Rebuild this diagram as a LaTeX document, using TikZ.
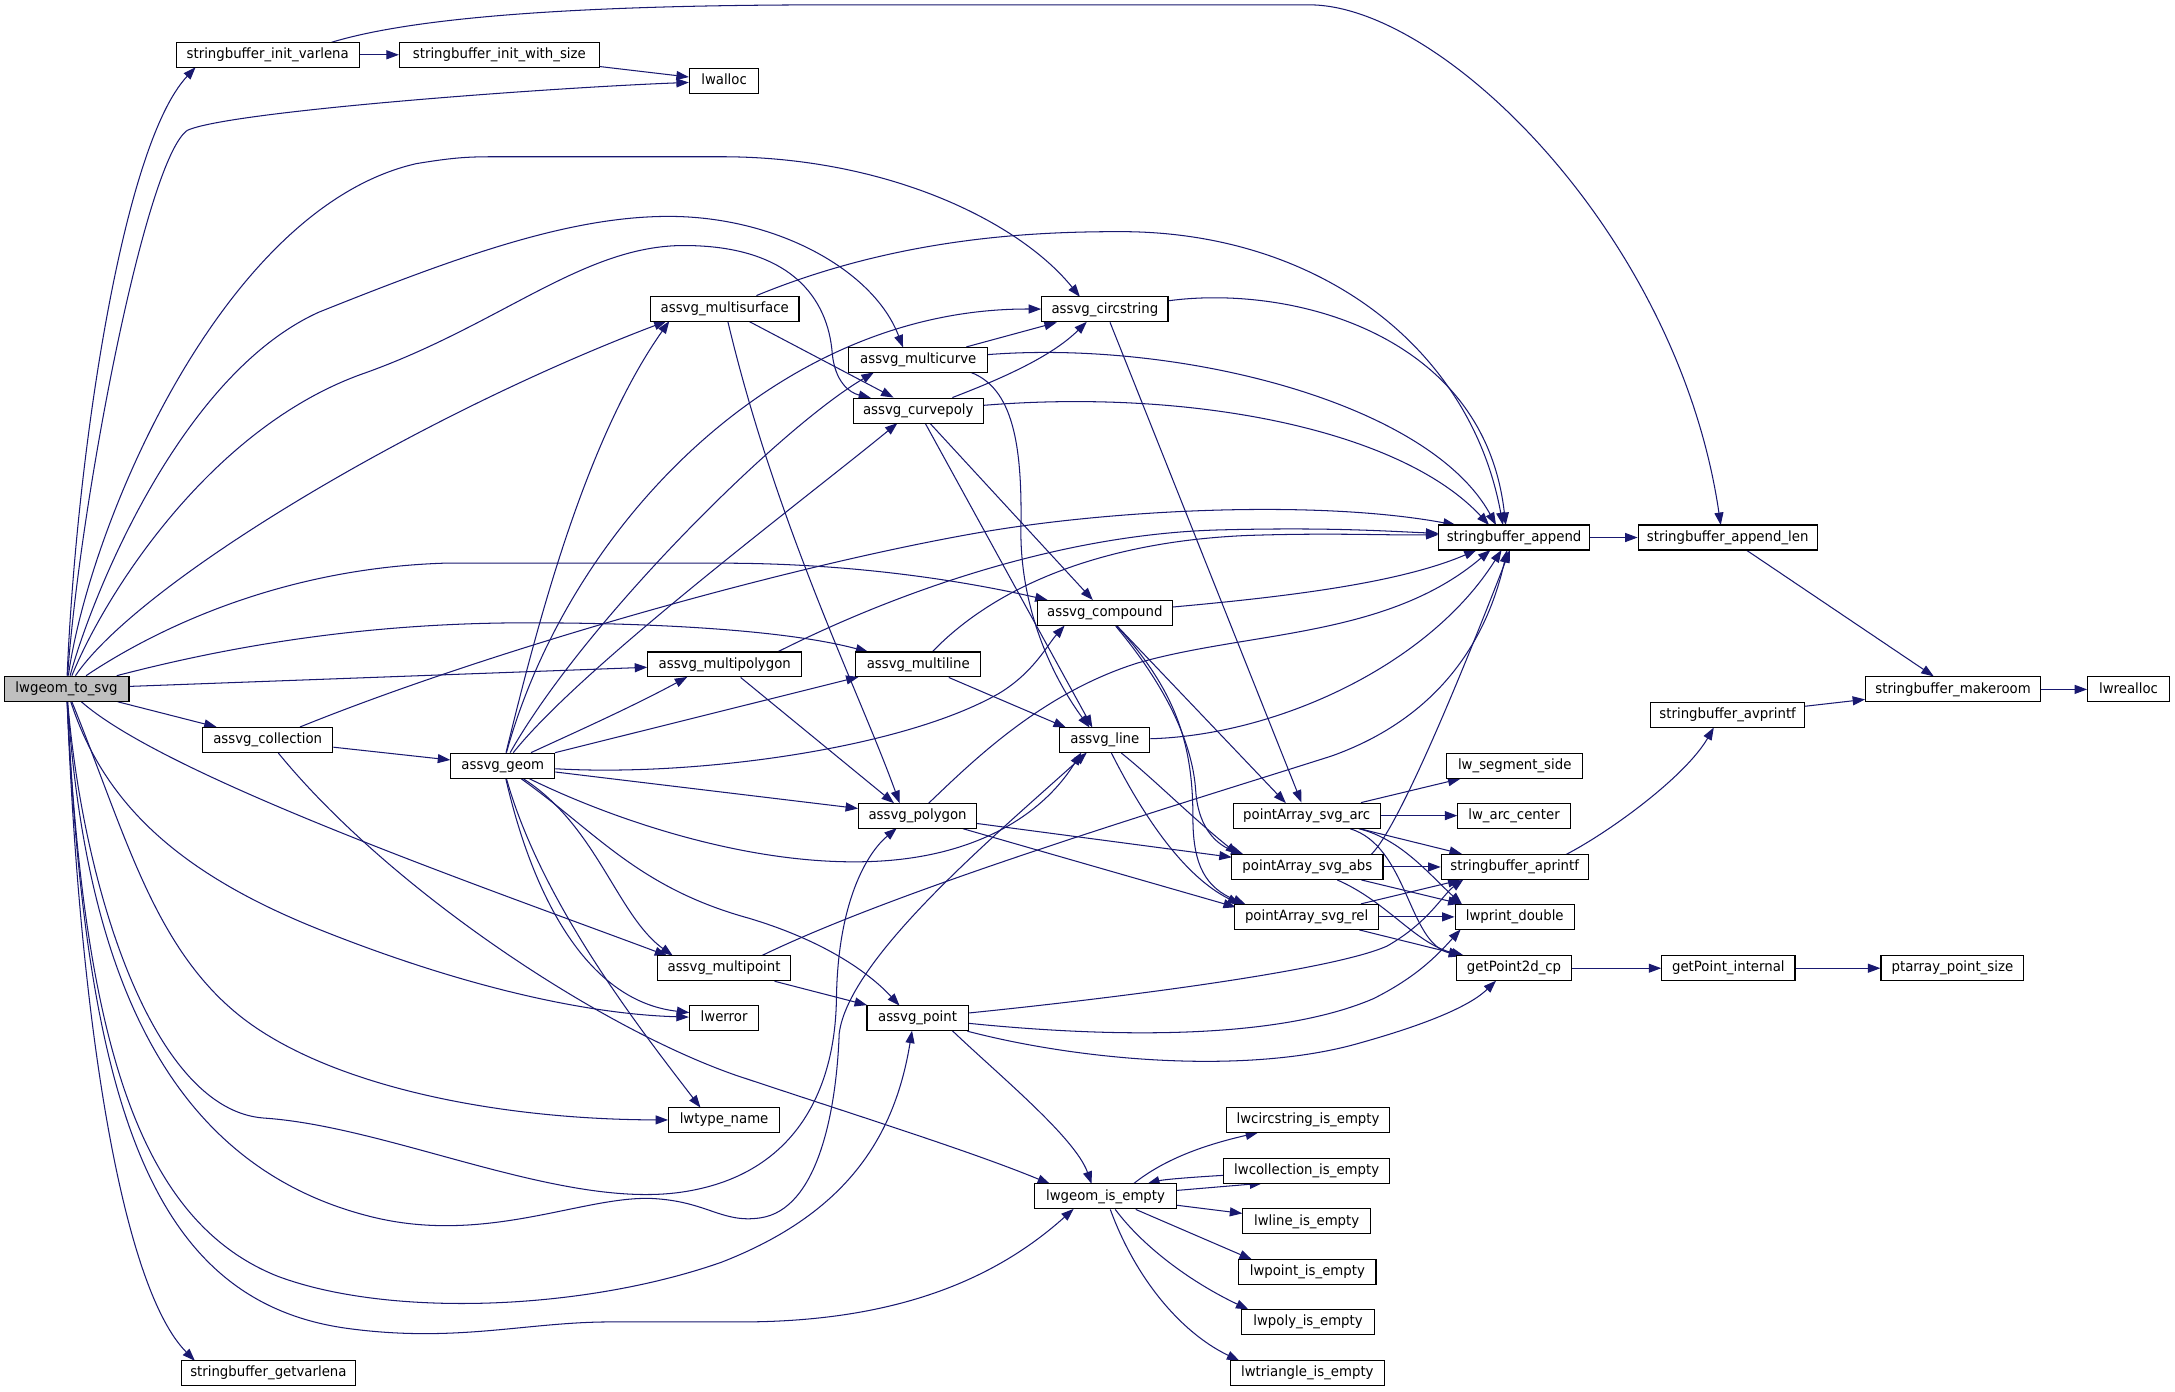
\documentclass[tikz,border=0pt]{standalone}
\usepackage{fontspec}
\setmainfont{DejaVu Sans}[FakeStretch=0.94]
\usetikzlibrary{arrows.meta,calc}
\definecolor{edgeblue}{HTML}{191970}
\definecolor{rootgray}{HTML}{BFBFBF}
\pgfdeclarelayer{bg}
\pgfsetlayers{bg,main}
\begin{document}
\begin{tikzpicture}[x=1pt,y=-1pt,
  fn/.style={draw=black, fill=white, line width=0.8pt, minimum height=18pt, inner sep=0pt,
    font=\fontsize{10.2pt}{12pt}\selectfont, text height=7.6pt, text depth=2.3pt},
  e/.style={draw=edgeblue, line width=0.75pt, -{Triangle[length=9pt,width=6.5pt]}}]
\useasboundingbox (0,0) rectangle (1568,1003.5);
% nodes
\node[fn, fill=rootgray, minimum width=90pt] (L) at (48,496.5) {lwgeom\_to\_svg};
\node[fn, minimum width=132pt] (siv) at (193,39.5) {stringbuffer\_init\_varlena};
\node[fn, minimum width=144pt] (siws) at (360,39.5) {stringbuffer\_init\_with\_size};
\node[fn, minimum width=50pt] (alloc) at (522,58.5) {lwalloc};
\node[fn, minimum width=107pt] (MS) at (522.5,222.5) {assvg\_multisurface};
\node[fn, minimum width=91pt] (CS) at (796.5,223) {assvg\_circstring};
\node[fn, minimum width=100pt] (MC) at (662,259.5) {assvg\_multicurve};
\node[fn, minimum width=94pt] (CP) at (662,296) {assvg\_curvepoly};
\node[fn, minimum width=109pt] (SA) at (1091.5,387.5) {stringbuffer\_append};
\node[fn, minimum width=129pt] (SAL) at (1245.5,387.5) {stringbuffer\_append\_len};
\node[fn, minimum width=97pt] (CO) at (796.5,442) {assvg\_compound};
\node[fn, minimum width=111pt] (MPG) at (522.5,479) {assvg\_multipolygon};
\node[fn, minimum width=90pt] (ML) at (662,479) {assvg\_multiline};
\node[fn, minimum width=94pt] (COL) at (193,533.5) {assvg\_collection};
\node[fn, minimum width=75pt] (G) at (362.5,552) {assvg\_geom};
\node[fn, minimum width=65pt] (LN) at (796.5,533.5) {assvg\_line};
\node[fn, minimum width=85pt] (PG) at (661.5,588) {assvg\_polygon};
\node[fn, minimum width=106pt] (ARC) at (942,588) {pointArray\_svg\_arc};
\node[fn, minimum width=109pt] (ABS) at (942.5,625) {pointArray\_svg\_abs};
\node[fn, minimum width=104pt] (REL) at (942,661) {pointArray\_svg\_rel};
\node[fn, minimum width=98pt] (SEG) at (1092,552) {lw\_segment\_side};
\node[fn, minimum width=81pt] (CEN) at (1091.5,588) {lw\_arc\_center};
\node[fn, minimum width=106pt] (APR) at (1092,625) {stringbuffer\_aprintf};
\node[fn, minimum width=86pt] (PD) at (1092,661) {lwprint\_double};
\node[fn, minimum width=83pt] (GP2) at (1091.5,698) {getPoint2d\_cp};
\node[fn, minimum width=96pt] (GPI) at (1246,698) {getPoint\_internal};
\node[fn, minimum width=103pt] (PPS) at (1407.5,698) {ptarray\_point\_size};
\node[fn, minimum width=111pt] (AVP) at (1245.5,515.5) {stringbuffer\_avprintf};
\node[fn, minimum width=126pt] (MKR) at (1408,497) {stringbuffer\_makeroom};
\node[fn, minimum width=59pt] (RA) at (1534.5,497) {lwrealloc};
\node[fn, minimum width=96pt] (MP) at (522,698) {assvg\_multipoint};
\node[fn, minimum width=50pt] (ERR) at (522,734) {lwerror};
\node[fn, minimum width=73pt] (PT) at (661.5,734) {assvg\_point};
\node[fn, minimum width=80pt] (TN) at (522,807.5) {lwtype\_name};
\node[fn, minimum width=102pt] (IE) at (797,862.5) {lwgeom\_is\_empty};
\node[fn, minimum width=118pt] (CSE) at (943,807.5) {lwcircstring\_is\_empty};
\node[fn, minimum width=120pt] (COE) at (942,844) {lwcollection\_is\_empty};
\node[fn, minimum width=92pt] (LE) at (942,880.5) {lwline\_is\_empty};
\node[fn, minimum width=99pt] (PE) at (942.5,917) {lwpoint\_is\_empty};
\node[fn, minimum width=96pt] (POE) at (943,953) {lwpoly\_is\_empty};
\node[fn, minimum width=111pt] (TE) at (942.5,990) {lwtriangle\_is\_empty};
\node[fn, minimum width=125pt] (GV) at (193.5,990) {stringbuffer\_getvarlena};
\begin{pgfonlayer}{bg}
\fill[white] (0,0) rectangle (1568,1003.5);
% from lwgeom_to_svg
\draw[e] (L) .. controls (55,330) and (88,105) .. ($(siv)+(-52,9)$);
\draw[e] (L) .. controls (58,360) and (105,115) .. (135,94) .. controls (165,80) and (400,63) .. (alloc);
\draw[e] (L) .. controls (64,380) and (160,150) .. (300,118) .. controls (330,113) and (340,113) .. (360,113) -- (520,113) .. controls (640,113) and (735,160) .. ($(CS)+(-18,-9)$);
\draw[e] (L) .. controls (66,430) and (130,270) .. (230,225) .. controls (330,185) and (410,156) .. (482,156) .. controls (560,156) and (630,195) .. ($(MC)+(-11,-9)$);
\draw[e] (L) .. controls (75,430) and (150,310) .. (260,270) .. controls (360,235) and (420,177) .. (493,177) .. controls (570,177) and (597,215) .. (600,255) .. controls (602,275) and (612,283) .. ($(CP)+(-34,-9)$);
\draw[e] (L) .. controls (100,420) and (300,300) .. ($(MS)+(-42,9)$);
\draw[e] (L) .. controls (110,455) and (200,410) .. (320,406) -- (520,406) .. controls (620,406) and (700,420) .. (CO);
\draw[e] (L) .. controls (150,470) and (250,449) .. (380,449) .. controls (480,449) and (570,455) .. ($(ML)+(-36,-9)$);
\draw[e] (L) -- (MPG);
\draw[e] (L) -- (COL);
\draw[e] (L) .. controls (120,560) and (350,640) .. ($(MP)+(-41,-9)$);
\draw[e] (L) .. controls (75,580) and (130,630) .. (230,670) .. controls (330,710) and (420,731) .. (ERR);
\draw[e] (L) .. controls (90,600) and (110,680) .. (170,730) .. controls (230,780) and (350,807) .. (TN);
\draw[e] (L) .. controls (60,640) and (110,800) .. (190,806) .. controls (280,812) and (400,870) .. (487,860) .. controls (570,850) and (602,790) .. (603,720) .. controls (604,650) and (625,615) .. ($(PG)+(-15,9)$);
\draw[e] (L) .. controls (62,700) and (120,840) .. (267,877) .. controls (350,898) and (420,862) .. (470,864) .. controls (510,866) and (520,882) .. (548,878) .. controls (590,872) and (603,800) .. (605,745) .. controls (612,690) and (720,600) .. ($(LN)+(-13,9)$);
\draw[e] (L) .. controls (60,750) and (100,880) .. (200,920) .. controls (280,950) and (420,945) .. (520,910) .. controls (610,875) and (645,820) .. ($(PT)+(-4,9)$);
\draw[e] (L) .. controls (62,800) and (110,940) .. (253,958) .. controls (330,968) and (380,953) .. (440,953) -- (534,953) .. controls (650,953) and (720,920) .. ($(IE)+(-23,9)$);
\draw[e] (L) .. controls (58,750) and (90,930) .. ($(GV)+(-53,-9)$);
% stringbuffer init
\draw[e] (siv) -- (siws);
\draw[e] (siws) -- (alloc);
\draw[e] ($(siv)+(46,-9)$) .. controls (300,12) and (420,3.5) .. (600,3.5) -- (944,3.5) .. controls (1040,3.5) and (1210,170) .. ($(SAL)+(-5,-9)$);
% collection
\draw[e] (COL) -- (G);
\draw[e] (COL) .. controls (350,470) and (560,410) .. (700,385) .. controls (800,367) and (950,360) .. ($(SA)+(-42,-9)$);
\draw[e] (COL) .. controls (280,640) and (430,740) .. (530,775) .. controls (620,805) and (700,830) .. ($(IE)+(-40,-9)$);
% geom
\draw[e] (G) .. controls (385,460) and (420,320) .. ($(MS)+(-40,9)$);
\draw[e] (G) .. controls (410,380) and (560,222) .. (CS);
\draw[e] (G) .. controls (420,450) and (560,310) .. ($(MC)+(-32,9)$);
\draw[e] (G) .. controls (420,480) and (580,360) .. ($(CP)+(-15,9)$);
\draw[e] (G) .. controls (410,530) and (455,510) .. ($(MPG)+(-27,9)$);
\draw[e] (G) -- ($(ML)+(-43,9)$);
\draw[e] (G) .. controls (500,560) and (650,540) .. (720,500) .. controls (745,485) and (755,465) .. ($(CO)+(-29,9)$);
\draw[e] (G) -- (PG);
\draw[e] (G) .. controls (440,590) and (540,625) .. (630,621) .. controls (700,618) and (750,590) .. ($(LN)+(-17,9)$);
\draw[e] (G) .. controls (430,595) and (445,660) .. ($(MP)+(-37,-9)$);
\draw[e] (G) .. controls (385,650) and (425,722) .. ($(ERR)+(-25,-4)$);
\draw[e] (G) .. controls (390,650) and (460,740) .. ($(TN)+(-17,-9)$);
\draw[e] (G) .. controls (430,600) and (460,640) .. (540,662) .. controls (600,680) and (630,705) .. ($(PT)+(-13,-9)$);
% multisurface
\draw[e] (MS) .. controls (650,170) and (750,167) .. (808,167) .. controls (950,167) and (1060,250) .. ($(SA)+(-8,-9)$);
\draw[e] (MS) -- (CP);
\draw[e] (MS) .. controls (560,380) and (620,500) .. ($(PG)+(-13,-9)$);
% circstring
\draw[e] (CS) .. controls (930,205) and (1070,240) .. ($(SA)+(-6,-9)$);
\draw[e] (CS) -- (ARC);
% multicurve
\draw[e] (MC) -- (CS);
\draw[e] (MC) .. controls (850,245) and (1030,290) .. ($(SA)+(-13,-9)$);
\draw[e] ($(MC)+(38,9)$) .. controls (730,280) and (737,320) .. (736,380) .. controls (735,440) and (760,490) .. ($(LN)+(-11,-9)$);
% curvepoly
\draw[e] (CP) .. controls (730,270) and (760,255) .. ($(CS)+(-13,9)$);
\draw[e] (CP) .. controls (860,280) and (1010,310) .. ($(SA)+(-18,-9)$);
\draw[e] (CP) -- ($(LN)+(-9,-9)$);
\draw[e] (CP) -- (CO);
% stringbuffer chain
\draw[e] (SA) -- (SAL);
\draw[e] (SAL) -- (MKR);
\draw[e] (MKR) -- (RA);
\draw[e] (AVP) -- (MKR);
\draw[e] ($(APR)+(37,-9)$) .. controls (1160,600) and (1215,560) .. ($(AVP)+(-10,9)$);
% pointArray
\draw[e] (ARC) -- (SEG);
\draw[e] (ARC) -- (CEN);
\draw[e] (ARC) -- (APR);
\draw[e] (ARC) .. controls (1010,605) and (1030,630) .. ($(PD)+(-38,-9)$);
\draw[e] (ARC) .. controls (1015,610) and (1015,680) .. ($(GP2)+(-38,-9)$);
\draw[e] ($(ABS)+(46,-9)$) .. controls (1010,595) and (1060,470) .. ($(SA)+(-3,9)$);
\draw[e] (ABS) -- (APR);
\draw[e] (ABS) -- (PD);
\draw[e] (ABS) .. controls (1000,650) and (1020,680) .. ($(GP2)+(-36,-9)$);
\draw[e] (REL) -- (APR);
\draw[e] (REL) -- (PD);
\draw[e] (REL) -- (GP2);
\draw[e] (GP2) -- (GPI);
\draw[e] (GPI) -- (PPS);
% compound
\draw[e] (CO) .. controls (930,430) and (1010,420) .. ($(SA)+(-27,9)$);
\draw[e] (CO) -- ($(ARC)+(-15,-9)$);
\draw[e] (CO) .. controls (845,500) and (860,540) .. (862,570) .. controls (864,600) and (880,610) .. ($(ABS)+(-46,-9)$);
\draw[e] (CO) .. controls (850,500) and (860,540) .. (860,590) .. controls (860,625) and (870,640) .. ($(REL)+(-44,-9)$);
% line
\draw[e] (LN) .. controls (920,530) and (1030,480) .. ($(SA)+(-9,9)$);
\draw[e] (LN) .. controls (830,560) and (860,590) .. ($(ABS)+(-50,-9)$);
\draw[e] (LN) .. controls (820,580) and (850,630) .. ($(REL)+(-48,-9)$);
% polygon
\draw[e] ($(PG)+(8,-9)$) .. controls (700,550) and (750,500) .. (820,478) .. controls (900,455) and (1000,460) .. ($(SA)+(-17,9)$);
\draw[e] (PG) -- ($(ABS)+(-54.5,-7)$);
\draw[e] (PG) -- ($(REL)+(-51,-7)$);
% multipolygon, multiline
\draw[e] ($(MPG)+(38,-9)$) .. controls (640,430) and (760,385) .. (880,382) .. controls (960,380) and (1000,383) .. ($(SA)+(-54.5,-3)$);
\draw[e] (MPG) -- ($(PG)+(-17,-9)$);
\draw[e] ($(ML)+(10,-9)$) .. controls (720,420) and (800,390) .. (900,386) .. controls (960,384) and (1000,386) .. ($(SA)+(-54.5,-2)$);
\draw[e] (ML) -- ($(LN)+(-28,-9)$);
% multipoint, point
\draw[e] ($(MP)+(27,-9)$) .. controls (650,640) and (850,580) .. (960,545) .. controls (1030,520) and (1070,470) .. ($(SA)+(-5,9)$);
\draw[e] (MP) -- (PT);
\draw[e] (PT) .. controls (800,720) and (960,700) .. (1000,682) .. controls (1030,665) and (1040,645) .. ($(APR)+(-37,9)$);
\draw[e] (PT) .. controls (800,748) and (920,750) .. (990,720) .. controls (1020,705) and (1035,690) .. ($(PD)+(-39,9)$);
\draw[e] (PT) .. controls (780,765) and (900,775) .. (980,752) .. controls (1030,738) and (1060,725) .. ($(GP2)+(-13,9)$);
\draw[e] ($(PT)+(25,9)$) .. controls (720,775) and (775,820) .. ($(IE)+(-10,-9)$);
% is_empty
\draw[e] ($(IE)+(20,-9)$) .. controls (840,835) and (870,825) .. ($(CSE)+(-36,9)$);
\draw[e] (IE) -- ($(COE)+(-32,9)$);
\draw[e] (COE) .. controls (870,848) and (840,850) .. ($(IE)+(30,-9)$);
\draw[e] (IE) -- (LE);
\draw[e] (IE) -- ($(PE)+(-40,-9)$);
\draw[e] (IE) .. controls (825,900) and (860,925) .. ($(POE)+(-43,-9)$);
\draw[e] (IE) .. controls (818,920) and (850,960) .. ($(TE)+(-49,-9)$);
\end{pgfonlayer}
\end{tikzpicture}
\end{document}
